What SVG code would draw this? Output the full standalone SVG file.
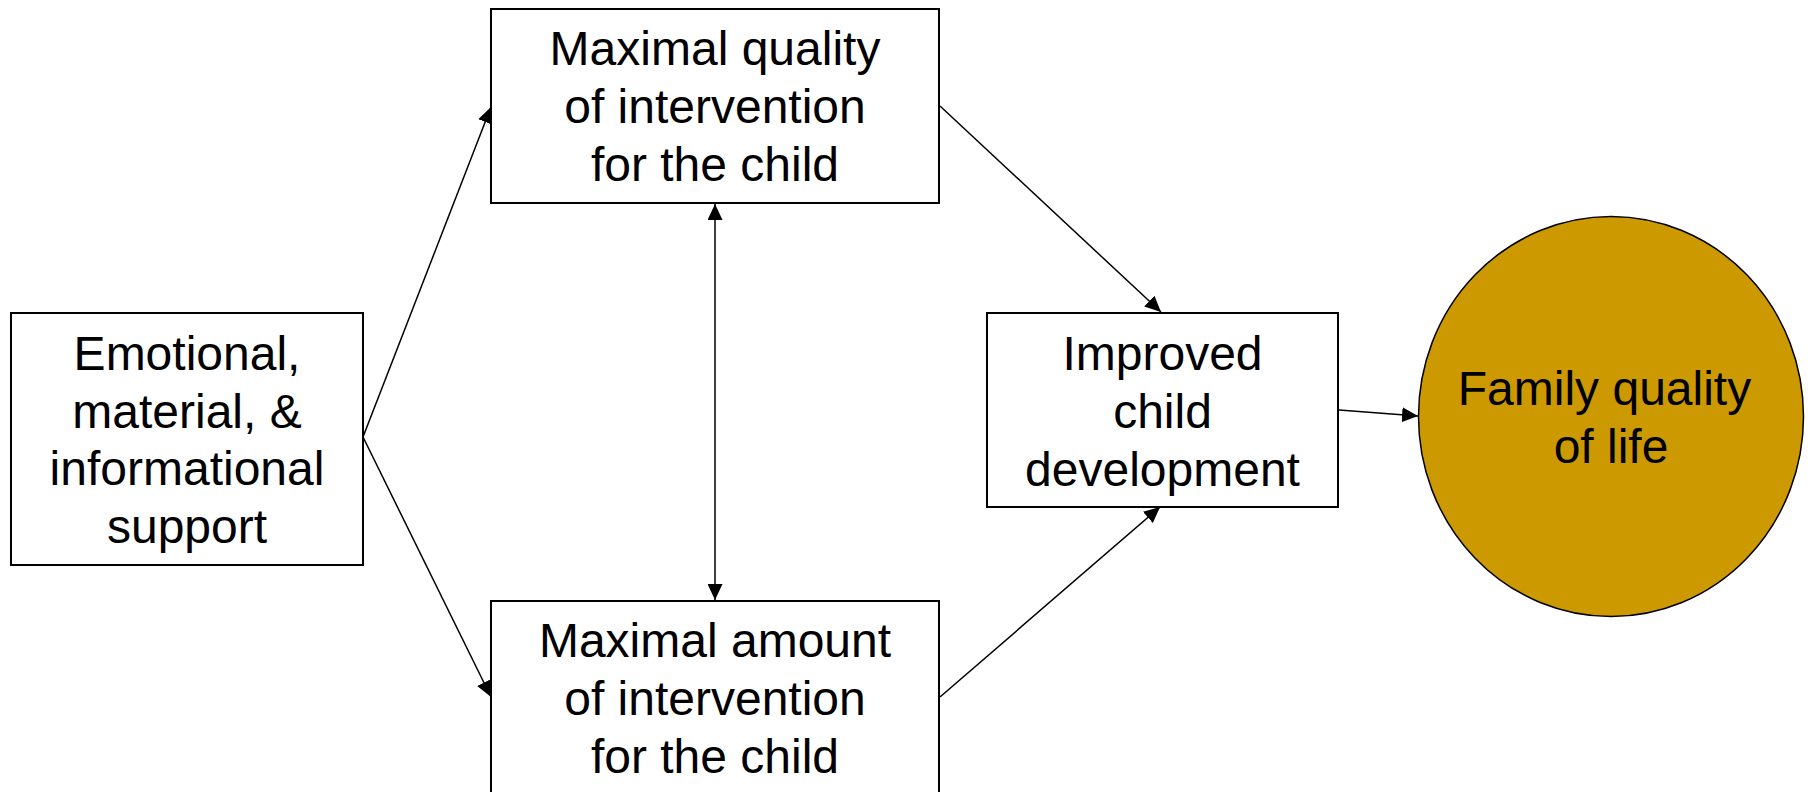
<svg xmlns="http://www.w3.org/2000/svg" width="1810" height="792" viewBox="0 0 1810 792">
<style>
.box{fill:#ffffff;stroke:#000000;stroke-width:2}
.ell{fill:#CC9900;stroke:#000000;stroke-width:1.5}
.t{font-family:"Liberation Sans",Arial,sans-serif;font-size:48px;fill:#000000;text-anchor:middle}
.c{fill:none;stroke:#000000;stroke-width:1.5}
</style>
<defs>
<marker id="ah" viewBox="0 0 16 15" refX="16" refY="7.5" markerWidth="16" markerHeight="15" markerUnits="userSpaceOnUse" orient="auto-start-reverse">
<path d="M0,0 L16,7.5 L0,15 z" fill="#000000"/>
</marker>
</defs>
<rect width="1810" height="792" fill="#ffffff"/>
<g id="connectors">
<line class="c" x1="363" y1="437" x2="491" y2="107" marker-end="url(#ah)"/>
<line class="c" x1="363" y1="437" x2="491" y2="697" marker-end="url(#ah)"/>
<line class="c" x1="715" y1="204" x2="715" y2="600" marker-start="url(#ah)" marker-end="url(#ah)"/>
<line class="c" x1="940" y1="106" x2="1161" y2="312" marker-end="url(#ah)"/>
<line class="c" x1="940" y1="697" x2="1160" y2="507" marker-end="url(#ah)"/>
<line class="c" x1="1339" y1="410" x2="1418" y2="416" marker-end="url(#ah)"/>
</g>
<g id="support">
<rect class="box" x="11" y="313" width="352" height="252"/>
<text class="t" x="187" y="370">Emotional,</text>
<text class="t" x="187" y="427.5">material, &amp;</text>
<text class="t" x="187" y="485">informational</text>
<text class="t" x="187" y="542.5">support</text>
</g>
<g id="quality">
<rect class="box" x="491" y="9" width="448" height="194"/>
<text class="t" x="715" y="65">Maximal quality</text>
<text class="t" x="715" y="123">of intervention</text>
<text class="t" x="715" y="181">for the child</text>
</g>
<g id="amount">
<rect class="box" x="491" y="601" width="448" height="194"/>
<text class="t" x="715" y="657">Maximal amount</text>
<text class="t" x="715" y="715">of intervention</text>
<text class="t" x="715" y="773">for the child</text>
</g>
<g id="development">
<rect class="box" x="987" y="313" width="351" height="194"/>
<text class="t" x="1162.5" y="370">Improved</text>
<text class="t" x="1162.5" y="428">child</text>
<text class="t" x="1162.5" y="485.5">development</text>
</g>
<g id="family">
<ellipse class="ell" cx="1611" cy="416.5" rx="192.5" ry="200"/>
<text class="t" x="1604.5" y="405">Family quality</text>
<text class="t" x="1611" y="463">of life</text>
</g>
</svg>
